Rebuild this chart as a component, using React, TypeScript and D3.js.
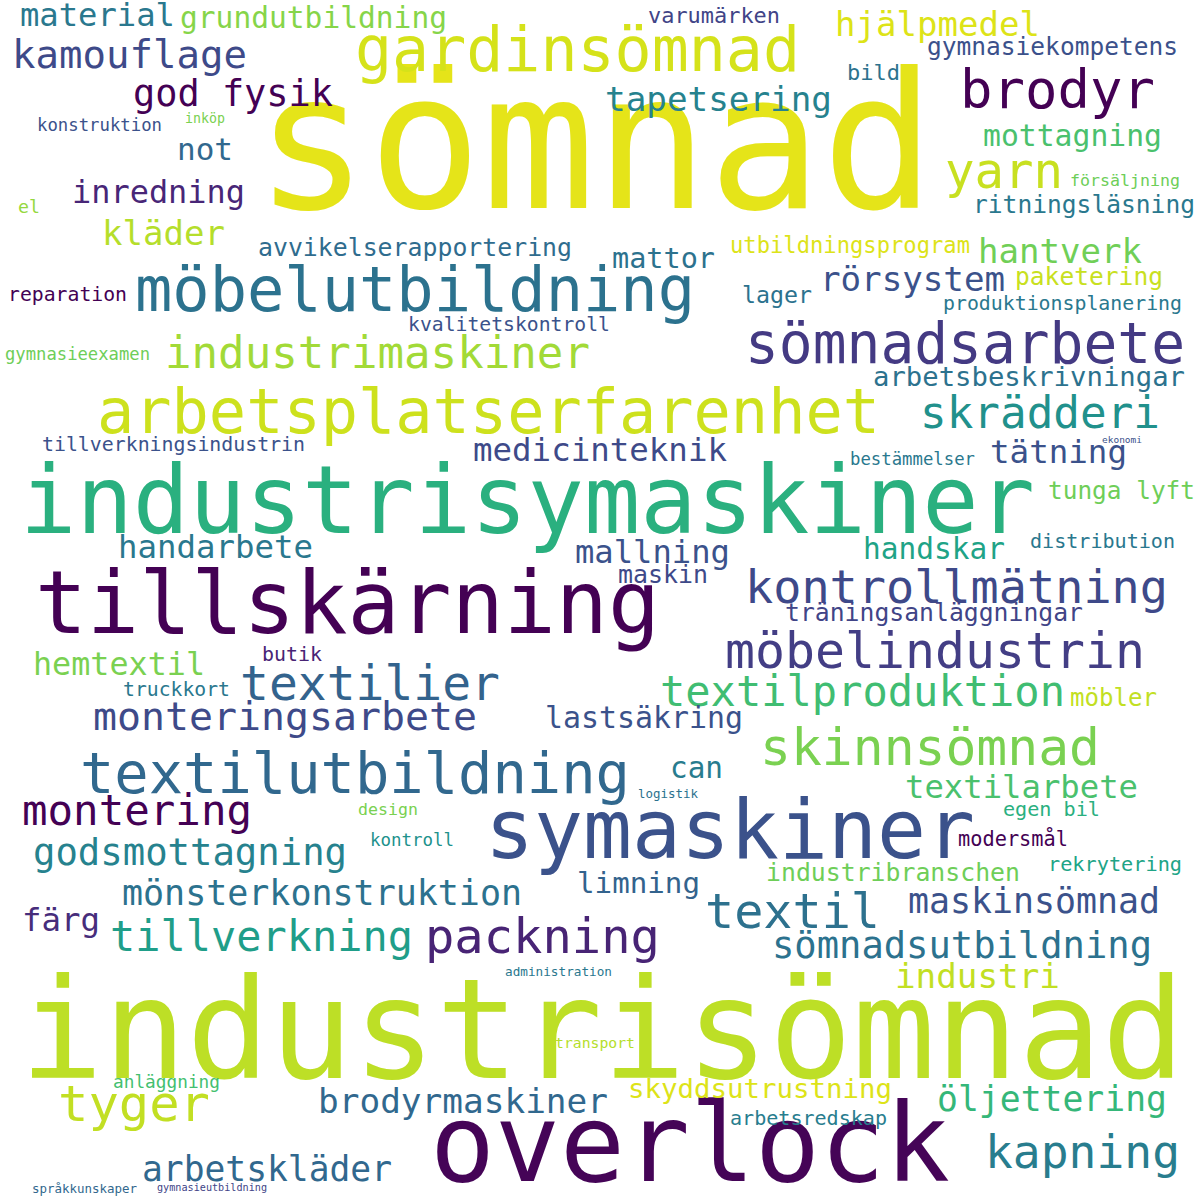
import * as d3 from "d3";

// Word cloud layout: [word, left, right, baseline, colour]
type Word = [string, number, number, number, string];

const words: Word[] = [
  ["sömnad", 255, 935, 205, "#e5e419"],
  ["industrisömnad", 20, 1185, 1075, "#bddf26"],
  ["industrisymaskiner", 20, 1035, 530, "#2ab07f"],
  ["tillskärning", 35, 660, 630, "#440154"],
  ["overlock", 430, 950, 1178, "#450457"],
  ["symaskiner", 485, 975, 855, "#3b528b"],
  ["gardinsömnad", 355, 800, 68, "#d5e21a"],
  ["möbelutbildning", 135, 695, 308, "#2c728e"],
  ["arbetsplatserfarenhet", 97, 880, 430, "#cde11d"],
  ["sömnadsarbete", 745, 1185, 360, "#443a83"],
  ["textilutbildning", 80, 630, 790, "#31688e"],
  ["brodyr", 960, 1155, 105, "#440154"],
  ["kontrollmätning", 745, 1168, 600, "#3e4989"],
  ["möbelindustrin", 725, 1145, 665, "#433e85"],
  ["skinnsömnad", 760, 1100, 762, "#7ad151"],
  ["textil", 705, 880, 925, "#2d718e"],
  ["packning", 425, 660, 950, "#482475"],
  ["kapning", 985, 1180, 1165, "#287d8e"],
  ["tyger", 58, 210, 1118, "#c2df23"],
  ["textilier", 240, 500, 697, "#33638d"],
  ["industrimaskiner", 165, 590, 365, "#a2da37"],
  ["yarn", 945, 1063, 185, "#c8e020"],
  ["kamouflage", 12, 247, 65, "#3e4a89"],
  ["god fysik", 133, 333, 103, "#440154"],
  ["hjälpmedel", 835, 1040, 33, "#dde318"],
  ["tapetsering", 605, 832, 108, "#26828e"],
  ["material", 20, 175, 23, "#2a788e"],
  ["grundutbildning", 180, 447, 25, "#86d549"],
  ["varumärken", 648, 780, 20, "#414487"],
  ["gymnasiekompetens", 927, 1178, 52, "#3b518b"],
  ["bild", 847, 900, 77, "#2c728e"],
  ["mottagning", 983, 1162, 143, "#4ac16d"],
  ["konstruktion", 37, 162, 128, "#3b528b"],
  ["inköp", 185, 225, 120, "#7ad151"],
  ["not", 177, 233, 157, "#31688e"],
  ["inredning", 72, 245, 200, "#482677"],
  ["kläder", 102, 225, 242, "#b5de2b"],
  ["el", 18, 40, 210, "#95d840"],
  ["försäljning", 1070, 1180, 183, "#6ece58"],
  ["ritningsläsning", 973, 1195, 210, "#2a788e"],
  ["avvikelserapportering", 258, 572, 253, "#2f6c8e"],
  ["mattor", 612, 715, 265, "#2c728e"],
  ["utbildningsprogram", 730, 970, 250, "#dde318"],
  ["hantverk", 978, 1142, 260, "#70cf57"],
  ["rörsystem", 820, 1005, 288, "#3b528b"],
  ["paketering", 1015, 1163, 282, "#c8e020"],
  ["lager", 742, 812, 300, "#2c728e"],
  ["reparation", 8, 127, 298, "#440154"],
  ["produktionsplanering", 943, 1182, 307, "#2a788e"],
  ["kvalitetskontroll", 408, 610, 328, "#3b528b"],
  ["gymnasieexamen", 5, 150, 357, "#6ece58"],
  ["arbetsbeskrivningar", 873, 1185, 383, "#2c728e"],
  ["skrädderi", 920, 1160, 425, "#21918c"],
  ["tillverkningsindustrin", 42, 305, 448, "#3b528b"],
  ["medicinteknik", 473, 727, 458, "#3e4a89"],
  ["tätning", 990, 1127, 460, "#3b528b"],
  ["bestämmelser", 850, 975, 462, "#2a788e"],
  ["ekonomi", 1102, 1142, 440, "#3b528b"],
  ["tunga lyft", 1048, 1195, 496, "#6ece58"],
  ["handarbete", 118, 313, 555, "#2a788e"],
  ["mallning", 575, 730, 560, "#3b528b"],
  ["handskar", 863, 1005, 556, "#20a386"],
  ["distribution", 1030, 1175, 545, "#2a788e"],
  ["maskin", 618, 708, 580, "#3e4989"],
  ["träningsanläggningar", 785, 1083, 618, "#414487"],
  ["hemtextil", 33, 205, 672, "#7ad151"],
  ["butik", 262, 322, 658, "#482475"],
  ["truckkort", 123, 230, 693, "#2a788e"],
  ["textilproduktion", 660, 1065, 703, "#40bd72"],
  ["möbler", 1070, 1157, 703, "#c2df23"],
  ["monteringsarbete", 93, 477, 727, "#3e4a89"],
  ["lastsäkring", 545, 743, 725, "#3b528b"],
  ["can", 670, 723, 775, "#287c8e"],
  ["design", 358, 418, 812, "#7ad151"],
  ["logistik", 638, 698, 795, "#2c728e"],
  ["textilarbete", 905, 1138, 795, "#4ac16d"],
  ["egen bil", 1003, 1100, 813, "#2ab07f"],
  ["montering", 22, 252, 822, "#440154"],
  ["kontroll", 370, 454, 843, "#21918c"],
  ["modersmål", 958, 1068, 843, "#440154"],
  ["godsmottagning", 33, 347, 862, "#26828e"],
  ["industribranschen", 766, 1020, 878, "#6ece58"],
  ["rekrytering", 1048, 1182, 868, "#20a486"],
  ["limning", 577, 700, 890, "#33638d"],
  ["mönsterkonstruktion", 122, 522, 902, "#2c728e"],
  ["färg", 22, 100, 928, "#472d7b"],
  ["maskinsömnad", 908, 1160, 910, "#3b528b"],
  ["tillverkning", 110, 413, 948, "#1f9e89"],
  ["sömnadsutbildning", 772, 1152, 955, "#2c728e"],
  ["industri", 895, 1060, 985, "#c2df23"],
  ["administration", 505, 612, 973, "#2a788e"],
  ["transport", 555, 635, 1045, "#b5de2b"],
  ["anläggning", 113, 220, 1085, "#44bf70"],
  ["skyddsutrustning", 628, 892, 1095, "#dde318"],
  ["brodyrmaskiner", 318, 608, 1110, "#31688e"],
  ["öljettering", 937, 1167, 1108, "#35b779"],
  ["arbetsredskap", 730, 887, 1122, "#287d8e"],
  ["arbetskläder", 142, 392, 1178, "#31688e"],
  ["språkkunskaper", 32, 137, 1190, "#31688e"],
  ["gymnasieutbildning", 157, 267, 1188, "#414487"],
];

const W = 1200;
const H = 1200;

export default function App() {
  const x = d3.scaleLinear().domain([0, W]).range([0, W]);
  // small downward nudge so baselines sit where the reference glyphs end
  const y = d3.scaleLinear().domain([0, H]).range([3, H + 3]);
  // monospace advance ≈ 0.602 em
  const sizeOf = (w: Word) => (x(w[2]) - x(w[1])) / (w[0].length * 0.602);

  return (
    <svg
      width={W}
      height={H}
      style={{ position: "absolute", left: 0, top: 0, background: "#fff" }}
    >
      <rect width={W} height={H} fill="#fff" />
      {words.map((w) => (
        <text
          key={w[0]}
          x={x(w[1])}
          y={y(w[3])}
          fill={w[4]}
          fontFamily="'DejaVu Sans Mono', monospace"
          fontSize={sizeOf(w)}
          textLength={x(w[2]) - x(w[1])}
          lengthAdjust="spacingAndGlyphs"
        >
          {w[0]}
        </text>
      ))}
    </svg>
  );
}
